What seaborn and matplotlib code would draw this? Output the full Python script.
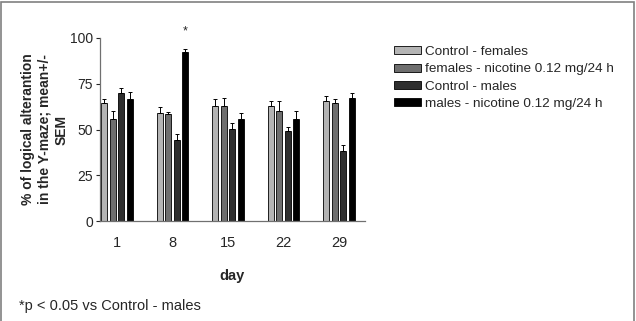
import numpy as np
import pandas as pd
import matplotlib
matplotlib.use("Agg")
import matplotlib.pyplot as plt
import seaborn as sns
from matplotlib.patches import Rectangle

# data
days = ["1", "8", "15", "22", "29"]
groups = ["Control - females", "females - nicotine 0.12 mg/24 h",
          "Control - males", "males - nicotine 0.12 mg/24 h"]
ctrl_f = [64.2, 59.0, 63.1, 63.1, 65.3]
nic_f = [56.0, 58.2, 63.1, 60.0, 64.5]
ctrl_m = [70.0, 44.4, 50.5, 49.3, 38.2]
nic_m = [66.4, 92.4, 55.5, 55.5, 67.1]
sem_ctrl_f = [2.2, 3.4, 3.3, 2.2, 2.9]
sem_nic_f = [4.0, 1.6, 4.0, 5.5, 2.4]
sem_ctrl_m = [2.4, 2.9, 2.8, 2.2, 3.1]
sem_nic_m = [4.0, 1.8, 3.5, 4.5, 2.9]

colors = ["#b4b4b4", "#6e6e6e", "#2e2e2e", "#000000"]

means = [ctrl_f, nic_f, ctrl_m, nic_m]
sems = [sem_ctrl_f, sem_nic_f, sem_ctrl_m, sem_nic_m]
df = pd.DataFrame({
    "day": days * 4,
    "group": [g for g in groups for _ in days],
    "value": sum(means, []),
    "sem": sum(sems, []),
})

sns.set_style("white")
plt.rcParams["font.family"] = ["Liberation Sans", "DejaVu Sans"]

fig = plt.figure(figsize=(6.36, 3.21), dpi=100)
ax = fig.add_axes([0.157, 0.311, 0.417, 0.571])

sns.barplot(data=df, x="day", y="value", hue="group", order=days, hue_order=groups,
            palette=colors, errorbar=None, width=0.62, gap=0.3,
            edgecolor="black", linewidth=0.6, ax=ax)

# one-sided error bars (mean + SEM)
for container, g in zip(ax.containers, groups):
    sub = df[df["group"] == g].set_index("day").loc[days]
    xs = [p.get_x() + p.get_width() / 2 for p in container.patches]
    ax.errorbar(xs, sub["value"], yerr=[np.zeros(len(xs)), sub["sem"]],
                fmt="none", ecolor="black", elinewidth=0.7, capsize=1.5, capthick=0.7)

# significance marker above day 8 males nicotine
star_bar = ax.containers[3].patches[1]
ax.text(star_bar.get_x() + star_bar.get_width() / 2, 100, "*", ha="center", va="bottom",
        fontsize=9)

ax.set_xlim(-0.31, 4.47)
ax.set_ylim(0, 100)
ax.set_yticks([0, 25, 50, 75, 100])
ax.tick_params(axis="y", direction="out", length=3, width=0.8, labelsize=10, left=True, pad=2)
ax.tick_params(axis="x", length=0, labelsize=10.5, pad=11)
for s in ["top", "right"]:
    ax.spines[s].set_visible(False)
for s in ["left", "bottom"]:
    ax.spines[s].set_color("#707070")
    ax.spines[s].set_linewidth(0.9)

ax.set_xlabel("day", fontsize=10.5, fontweight="bold", labelpad=13)
ax.set_ylabel("% of logical alterantion\nin the Y-maze; mean+/-\nSEM", fontsize=10,
              fontweight="bold", labelpad=1, linespacing=1.25)

ax.legend(loc="upper left", bbox_to_anchor=(1.09, 0.985), frameon=False, fontsize=9.7,
          handlelength=2.0, handleheight=0.55, handletextpad=0.25, labelspacing=0.4,
          borderaxespad=0)

fig.text(0.03, 0.035, "*p < 0.05 vs Control - males", fontsize=10.5)
fig.patches.append(Rectangle((0.002, -0.01), 0.995, 1.005, transform=fig.transFigure,
                             fill=False, edgecolor="#808080", linewidth=1.2))

fig.savefig("out.png", dpi=100)
